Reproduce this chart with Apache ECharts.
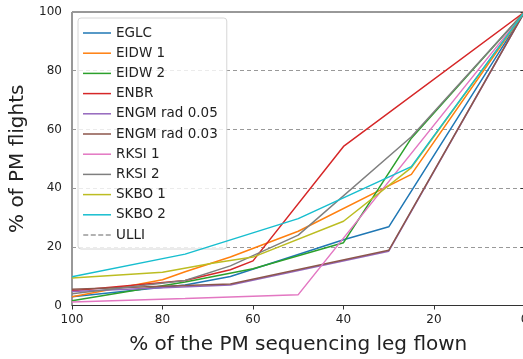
<!DOCTYPE html>
<html>
<head>
<meta charset="utf-8">
<script src="https://cdn.jsdelivr.net/npm/echarts@6/dist/echarts.min.js"></script>
<style>
  html, body { margin: 0; padding: 0; background: #fff; }
  #chart { width: 523px; height: 359px; }
</style>
</head>
<body>
<div id="chart"></div>
<script>
// points are [% of leg flown, % of PM flights]
const names = ['EGLC', 'EIDW 1', 'EIDW 2', 'ENBR', 'ENGM rad 0.05', 'ENGM rad 0.03',
  'RKSI 1', 'RKSI 2', 'SKBO 1', 'SKBO 2', 'ULLI'];
const colors = ['#1f77b4', '#ff7f0e', '#2ca02c', '#d62728', '#9467bd', '#8c564b',
  '#e377c2', '#7f7f7f', '#bcbd22', '#17becf', '#999999'];

const eglc = [[100, 3], [75, 7], [65, 9.9], [40, 22.4], [30, 26.8], [0, 100]];
const eidw1 = [[100, 3], [80, 8.8], [75, 11.5], [65, 16.5], [50, 25.3], [25, 44.7], [0, 100]];
const eidw2 = [[100, 1.6], [75, 8], [60, 12.5], [40, 21.4], [25, 57], [0, 100]];
const enbr = [[100, 5], [75, 8.5], [65, 12.2], [60, 15.2], [40, 54.2], [0, 100]];
const engm05 = [[100, 4.8], [65, 7], [30, 18.5], [0, 100]];
const engm03 = [[100, 5.5], [65, 7.3], [30, 18.8], [0, 100]];
const rksi1 = [[100, 1.2], [75, 2.4], [50, 3.7], [0, 100]];
const rksi2 = [[100, 4], [75, 8.5], [65, 13.5], [50, 24], [25, 57.5], [0, 100]];
const skbo1 = [[100, 9.4], [80, 11.3], [69, 14.4], [60, 16.5], [40, 28.7], [25, 47], [0, 100]];
const skbo2 = [[100, 9.8], [75, 17.5], [50, 29.6], [25, 47.3], [0, 100]];
const ulli = [];

const allData = [eglc, eidw1, eidw2, enbr, engm05, engm03, rksi1, rksi2, skbo1, skbo2, ulli];

const solidIcon = 'path://M0,0H28V1.5H0Z';
const dashIcon = 'path://M0,0H5V1.5H0Z M7.5,0H12.5V1.5H7.5Z M15,0H20V1.5H15Z M22.5,0H27.5V1.5H22.5Z';

const chart = echarts.init(document.getElementById('chart'));
const font = 'DejaVu Sans';

const option = {
  animation: false,
  color: colors,
  grid: {
    left: 72,
    top: 12,
    width: 452.5,
    height: 293.5,
    containLabel: false,
    outerBoundsMode: 'none',
    show: true,
    borderColor: '#333',
    borderWidth: 1,
  },
  legend: {
    orient: 'vertical',
    left: 78,
    top: 18,
    data: names.map(function (n) {
      return { name: n, icon: n === 'ULLI' ? dashIcon : solidIcon };
    }),
    itemWidth: 28,
    itemHeight: 1.5,
    itemGap: 6.2,
    itemTextGap: 10,
    padding: [8, 9, 7, 5],
    backgroundColor: 'rgba(255,255,255,0.8)',
    borderColor: '#d6d6d6',
    borderWidth: 1,
    borderRadius: 3,
    textStyle: { fontFamily: font, fontSize: 13.5, lineHeight: 14, color: '#222' },
  },
  xAxis: {
    type: 'value',
    inverse: true,
    min: 0,
    max: 100,
    interval: 20,
    name: '% of the PM sequencing leg flown',
    nameLocation: 'middle',
    nameGap: 29,
    nameTextStyle: { fontFamily: font, fontSize: 20, color: '#222' },
    axisLine: { show: true, lineStyle: { color: '#333', width: 1 } },
    axisTick: { show: true, inside: false, length: 4, lineStyle: { color: '#333' } },
    axisLabel: { fontFamily: font, fontSize: 12, color: '#222', margin: 8 },
    splitLine: { show: false },
  },
  yAxis: {
    type: 'value',
    min: 0,
    max: 100,
    interval: 20,
    name: '% of PM flights',
    nameLocation: 'middle',
    nameGap: 44,
    nameTextStyle: { fontFamily: font, fontSize: 20, color: '#222' },
    axisLine: { show: true, lineStyle: { color: '#333', width: 1 } },
    axisTick: { show: true, inside: false, length: 4, lineStyle: { color: '#333' } },
    axisLabel: { fontFamily: font, fontSize: 12, color: '#222', margin: 10 },
    splitLine: { show: true, lineStyle: { color: '#999', type: [4, 3], width: 1 } },
  },
  series: names.map(function (n, i) {
    return {
      name: n,
      type: 'line',
      data: allData[i],
      symbol: 'none',
      lineStyle: { width: 1.5, color: colors[i], type: n === 'ULLI' ? [4, 2] : 'solid' },
      itemStyle: { color: colors[i] },
      z: 2 + i,
    };
  }),
};

chart.setOption(option);
</script>
</body>
</html>
